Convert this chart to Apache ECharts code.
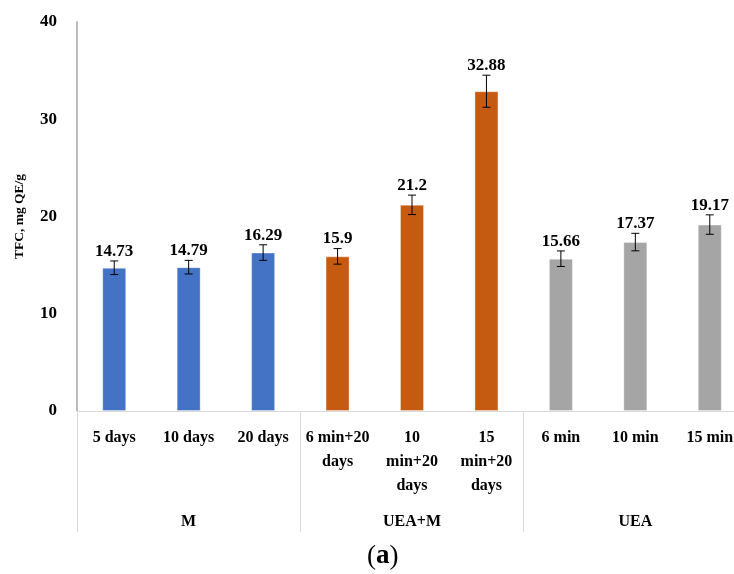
<!DOCTYPE html>
<html><head><meta charset="utf-8">
<script src="https://cdn.jsdelivr.net/npm/echarts@6/dist/echarts.min.js"></script>
<style>html,body{margin:0;padding:0;background:#fff}#c{width:734px;height:574px}</style>
</head><body><div id="c"></div>
<script>
const categories = ['5 days','10 days','20 days','6 min+20\ndays','10\nmin+20\ndays','15\nmin+20\ndays','6 min','10 min','15 min'];
const groups = ['M','UEA+M','UEA'];
const values = [14.73, 14.79, 16.29, 15.9, 21.2, 32.88, 15.66, 17.37, 19.17];
const errors = [0.7, 0.7, 0.8, 0.8, 1.0, 1.65, 0.8, 0.9, 1.0];
const barColors = ['#4472C4','#4472C4','#4472C4','#C55A11','#C55A11','#C55A11','#A5A5A5','#A5A5A5','#A5A5A5'];
const yTicks = [0, 10, 20, 30, 40];

const FONT = '"Liberation Serif", "DejaVu Serif", serif';
const chart = echarts.init(document.getElementById('c'), null, {renderer:'canvas'});
chart.setOption({
  animation: false,
  title: {
    text: '({b|a})', left: 362, top: 538,
    textStyle: { fontFamily: FONT, fontSize: 27, color: '#000', fontWeight: 'normal',
      rich: { b: { fontFamily: FONT, fontSize: 27, fontWeight: 'bold', color: '#000' } } }
  },
  grid: { left: 77, top: 22, width: 670, height: 389, outerBoundsMode: 'none', containLabel: false },
  xAxis: [
    {
      type: 'category', data: categories, position: 'bottom',
      axisLine: { show: true, lineStyle: { color: '#d9d9d9', width: 1 } },
      axisTick: { show: false },
      axisLabel: { interval: 0, margin: 15, fontFamily: FONT, fontSize: 16, fontWeight: 'bold', color: '#000', lineHeight: 24, align: 'center', hideOverlap: false }
    },
    {
      type: 'category', data: groups, position: 'bottom', gridIndex: 0,
      axisLine: { show: true, lineStyle: { color: '#d9d9d9', width: 1 } },
      axisTick: { show: true, length: 121, lineStyle: { color: '#d9d9d9', width: 1 } },
      axisLabel: { interval: 0, margin: 103, fontFamily: FONT, fontSize: 16, fontWeight: 'bold', color: '#000' }
    }
  ],
  yAxis: {
    type: 'value', min: yTicks[0], max: yTicks[yTicks.length-1], interval: 10,
    name: 'TFC, mg QE/g', nameLocation: 'middle', nameGap: 50, nameRotate: 90,
    nameTextStyle: { fontFamily: FONT, fontSize: 13.5, fontWeight: 'bold', color: '#000' },
    axisLine: { show: true, lineStyle: { color: '#a6a6a6', width: 1.5 } },
    axisTick: { show: false },
    splitLine: { show: false },
    axisLabel: { margin: 20, fontFamily: FONT, fontSize: 17, fontWeight: 'bold', color: '#000' }
  },
  series: [
    {
      type: 'bar', xAxisIndex: 0, barWidth: 24,
      data: values.map((v, i) => ({ value: v, itemStyle: { color: barColors[i] } })),
      itemStyle: { borderColor: 'rgba(255,255,255,0.35)', borderWidth: 1 }
    },
    {
      type: 'custom', xAxisIndex: 0, z: 5,
      data: values.map((v, i) => [i, v, errors[i]]),
      renderItem: function (params, api) {
        const x = api.value(0), v = api.value(1), e = api.value(2);
        const top = api.coord([x, v + e]);
        const bot = api.coord([x, v - e]);
        const hw = 4;
        const style = { stroke: '#000', lineWidth: 1 };
        return {
          type: 'group',
          children: [
            { type: 'line', shape: { x1: top[0], y1: top[1], x2: bot[0], y2: bot[1] }, style },
            { type: 'line', shape: { x1: top[0]-hw, y1: top[1], x2: top[0]+hw, y2: top[1] }, style },
            { type: 'line', shape: { x1: bot[0]-hw, y1: bot[1], x2: bot[0]+hw, y2: bot[1] }, style },
            { type: 'text', x: top[0], y: top[1] - 1,
              style: { text: String(v), fill: '#000', font: 'bold 17px ' + FONT, align: 'center', verticalAlign: 'bottom' } }
          ]
        };
      }
    }
  ]
});
</script>
</body></html>
